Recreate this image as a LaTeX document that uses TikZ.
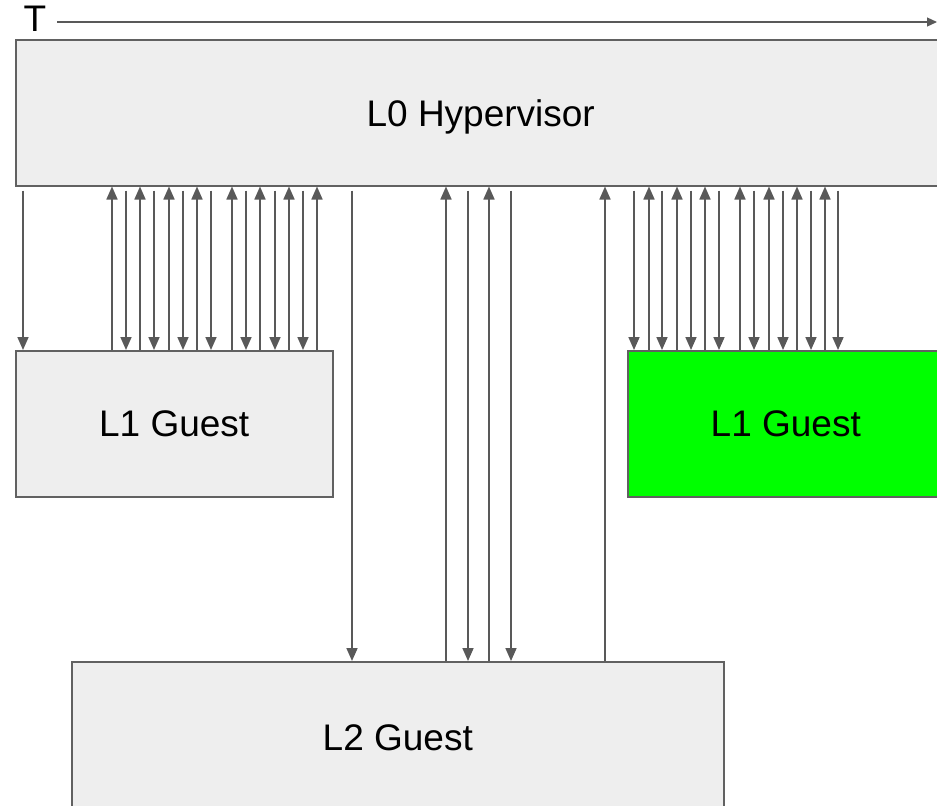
\documentclass[tikz,border=0pt]{standalone}
\usepackage{fontspec}
\setmainfont{Liberation Sans}
\usetikzlibrary{arrows.meta}
\definecolor{boxgray}{RGB}{238,238,238}
\definecolor{linegray}{RGB}{89,89,89}
\definecolor{guestgreen}{RGB}{0,255,0}

\begin{document}
\begin{tikzpicture}[
  x=0.5pt, y=-0.5pt,
  every node/.style={font=\fontsize{18.5}{22}\selectfont},
  vmbox/.style={draw=linegray!95, line width=0.75pt, fill=boxgray, inner sep=0pt, anchor=north west},
  call/.style={linegray, line width=0.85pt, -{Triangle[length=6.5pt, width=5.5pt]}},
]
  \useasboundingbox (0,0) rectangle (937,805);
  \clip (0,0) rectangle (937,805);

  % Hypervisor and guests
  \node[vmbox, text depth=0pt, minimum width=465pt, minimum height=73pt] (hyper) at (15,39) {L0 Hypervisor};
  \node[vmbox, minimum width=158.5pt, minimum height=73pt] (guesta) at (15,350) {L1 Guest};
  \node[vmbox, fill=guestgreen, minimum width=158pt, minimum height=73pt] (guestb) at (627,350) {L1 Guest};
  \node[vmbox, minimum width=326pt, minimum height=76pt] (nested) at (71,661) {L2 Guest};

  % Time axis
  \node (time) at (35,19) {T};
  \coordinate (tend) at (937,22);
  \draw[linegray, line width=0.6pt, -{Triangle[length=5pt, width=4.5pt]}]
      ([xshift=2pt, yshift=-1.5pt]time.east) -- (tend);

  % Left L1 guest exits and entries
  \draw[call, shorten <=2pt] (23,0 |- hyper.south) -- (23,0 |- guesta.north);
  \foreach \x in {112,140,169,197,232,260,289,317}
    \draw[call] (\x,0 |- guesta.north) -- (\x,0 |- hyper.south);
  \foreach \x in {126,154,183,211,246,275,303}
    \draw[call, shorten <=2pt] (\x,0 |- hyper.south) -- (\x,0 |- guesta.north);

  % Right L1 guest exits and entries
  \foreach \x in {649,677,705,740,769,797,825}
    \draw[call] (\x,0 |- guestb.north) -- (\x,0 |- hyper.south);
  \foreach \x in {634,662,691,719,754,783,811,838}
    \draw[call, shorten <=2pt] (\x,0 |- hyper.south) -- (\x,0 |- guestb.north);

  % Nested L2 guest
  \foreach \x in {352,468,511}
    \draw[call, shorten <=2pt] (\x,0 |- hyper.south) -- (\x,0 |- nested.north);
  \foreach \x in {446,489,605}
    \draw[call] (\x,0 |- nested.north) -- (\x,0 |- hyper.south);
\end{tikzpicture}
\end{document}
